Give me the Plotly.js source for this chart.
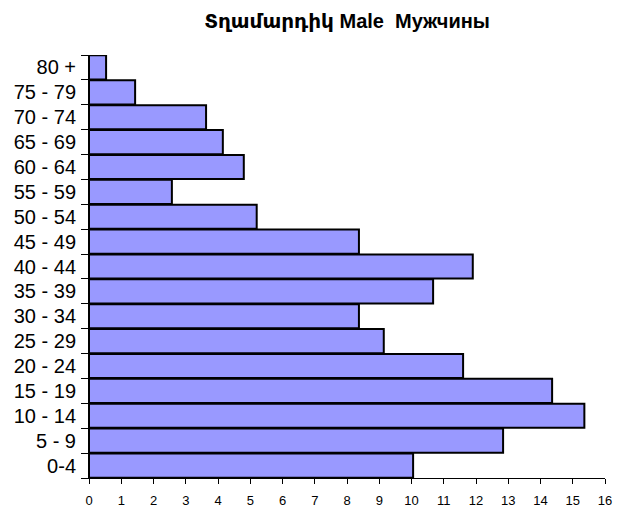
<!DOCTYPE html>
<html>
<head>
<meta charset="utf-8">
<script src="https://cdn.plot.ly/plotly-3.0.1.min.js"></script>
<style>html,body{margin:0;padding:0;background:#fff;}#chart{width:619px;height:507px;}</style>
</head>
<body>
<div id="chart"></div>
<script>
const ageGroups = ["0-4","5 - 9","10 - 14","15 - 19","20 - 24","25 - 29","30 - 34","35 - 39","40 - 44","45 - 49","50 - 54","55 - 59","60 - 64","65 - 69","70 - 74","75 - 79","80 +"];
const maleValues = [10.05, 12.84, 15.36, 14.36, 11.6, 9.14, 8.37, 10.67, 11.9, 8.37, 5.2, 2.57, 4.8, 4.15, 3.63, 1.43, 0.53];
const xTicks = [0,1,2,3,4,5,6,7,8,9,10,11,12,13,14,15,16];
const chartTitle = "Տղամարդիկ Male  Мужчины";

Plotly.newPlot('chart', [{
  type: 'bar',
  orientation: 'h',
  y: ageGroups,
  x: maleValues,
  marker: {color: '#9999FF', line: {color: '#000000', width: 2}},
  hoverinfo: 'x+y'
}], {
  width: 619, height: 507,
  margin: {l: 89, r: 14, t: 55, b: 29},
  paper_bgcolor: '#ffffff',
  plot_bgcolor: '#ffffff',
  bargap: 0.03,
  showlegend: false,
  title: {
    text: chartTitle,
    font: {family: 'Liberation Sans, Arial, DejaVu Sans, sans-serif', size: 20, color: '#000', weight: 'bold'},
    x: 0.5, xref: 'paper', xanchor: 'center',
    y: 0.959, yref: 'container', yanchor: 'middle'
  },
  xaxis: {
    range: [0, 16],
    tickvals: xTicks,
    ticktext: xTicks.map(String),
    showgrid: false, zeroline: false,
    showline: true, linecolor: '#000', linewidth: 1,
    ticks: 'outside', ticklen: 5, tickcolor: '#000', tickwidth: 1,
    tickfont: {family: 'Liberation Sans, Arial, sans-serif', size: 13, color: '#000'},
    ticklabelstandoff: 5,
    fixedrange: true
  },
  yaxis: {
    type: 'category',
    showgrid: false, zeroline: false,
    showline: true, linecolor: '#000', linewidth: 1,
    ticks: 'outside', tickson: 'boundaries', ticklen: 7, tickcolor: '#000', tickwidth: 1,
    tickfont: {family: 'Liberation Sans, Arial, sans-serif', size: 20, color: '#000'},
    ticklabelstandoff: 8,
    fixedrange: true
  }
}, {displayModeBar: false, staticPlot: true});
</script>
</body>
</html>
